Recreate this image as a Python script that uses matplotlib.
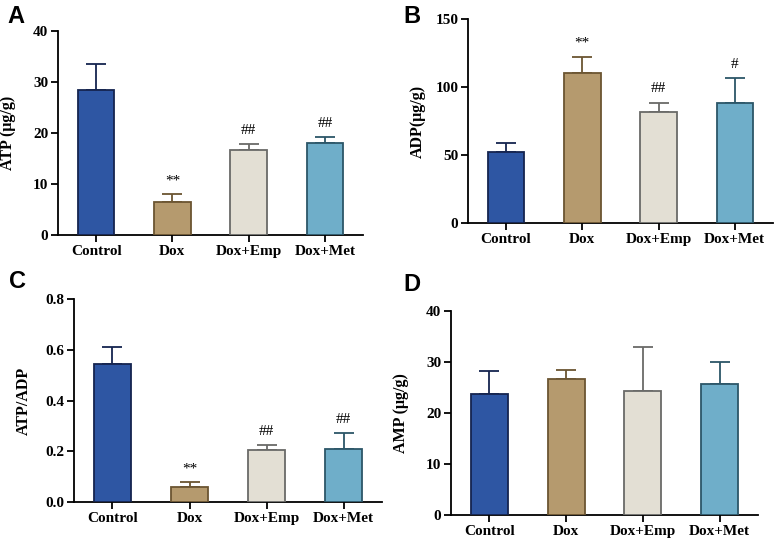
import matplotlib
matplotlib.use("Agg")
import matplotlib.pyplot as plt
import numpy as np

groups = ["Control", "Dox", "Dox+Emp", "Dox+Met"]

atp_mean = [28.5, 6.5, 16.7, 18.0]
atp_sd = [5.1, 1.5, 1.1, 1.2]
atp_marks = ["", "**", "##", "##"]

adp_mean = [52.0, 110.0, 81.5, 88.0]
adp_sd = [7.0, 12.0, 7.0, 18.5]
adp_marks = ["", "**", "##", "#"]

ratio_mean = [0.545, 0.060, 0.205, 0.210]
ratio_sd = [0.065, 0.017, 0.020, 0.063]
ratio_marks = ["", "**", "##", "##"]

amp_mean = [23.8, 26.6, 24.3, 25.6]
amp_sd = [4.4, 1.8, 8.6, 4.4]
amp_marks = ["", "", "", ""]

fill_colors = ["#2E56A3", "#B59A6E", "#E3DFD4", "#6FAEC9"]
edge_colors = ["#15244F", "#6B5532", "#6A6A68", "#2C5668"]

plt.rcParams["font.family"] = ["Liberation Serif", "DejaVu Serif"]
plt.rcParams["font.weight"] = "bold"

fig = plt.figure(figsize=(7.78, 5.42), dpi=100)

panels = [
    # letter, rect, mean, sd, marks, ylabel, ylim, yticks, yticklabels, letter pos, labelpad
    ("A", [0.0746, 0.5664, 0.392, 0.3764], atp_mean, atp_sd, atp_marks,
     "ATP (μg/g)", (0, 40), [0, 10, 20, 30, 40], ["0", "10", "20", "30", "40"], (0.010, 0.990), 12),
    ("B", [0.6015, 0.5886, 0.392, 0.3764], adp_mean, adp_sd, adp_marks,
     "ADP(μg/g)", (0, 150), [0, 50, 100, 150], ["0", "50", "100", "150"], (0.519, 0.990), 7),
    ("C", [0.0951, 0.0738, 0.396, 0.3745], ratio_mean, ratio_sd, ratio_marks,
     "ATP/ADP", (0, 0.8), [0, 0.2, 0.4, 0.6, 0.8], ["0.0", "0.2", "0.4", "0.6", "0.8"], (0.012, 0.502), 10),
    ("D", [0.5797, 0.0498, 0.3946, 0.3764], amp_mean, amp_sd, amp_marks,
     "AMP (μg/g)", (0, 40), [0, 10, 20, 30, 40], ["0", "10", "20", "30", "40"], (0.519, 0.497), 12),
]

x = np.arange(len(groups))
for letter, rect, mean, sd, marks, ylabel, ylim, yticks, yticklabels, lpos, lpad in panels:
    ax = fig.add_axes(rect)
    ax.bar(x, mean, width=0.48, color=fill_colors, edgecolor=edge_colors,
           linewidth=1.3, zorder=3)
    for i in range(len(groups)):
        ax.errorbar(x[i], mean[i], yerr=[[0], [sd[i]]], fmt="none",
                    ecolor=edge_colors[i], elinewidth=1.3, capsize=7,
                    capthick=1.3, zorder=2)
        if marks[i]:
            ax.text(x[i], mean[i] + sd[i] + (ylim[1] - ylim[0]) * 0.035, marks[i],
                    ha="center", va="bottom", fontsize=11, fontweight="normal")
    ax.set_xlim(-0.5, 3.5)
    ax.set_ylim(*ylim)
    ax.set_yticks(yticks)
    ax.set_yticklabels(yticklabels)
    ax.set_xticks(x)
    ax.set_xticklabels(groups)
    ax.spines["top"].set_visible(False)
    ax.spines["right"].set_visible(False)
    for s in ["left", "bottom"]:
        ax.spines[s].set_linewidth(1.3)
    ax.tick_params(axis="both", direction="out", length=5, width=1.3,
                   labelsize=11, pad=2)
    for lab in ax.get_xticklabels() + ax.get_yticklabels():
        lab.set_fontweight("bold")
    ax.set_ylabel(ylabel, fontsize=11.5, fontweight="bold", labelpad=lpad)
    fig.text(lpos[0], lpos[1], letter, fontsize=17, fontweight="bold",
             family=["Liberation Sans", "DejaVu Sans"], ha="left", va="top")

fig.savefig("out.png", dpi=100)
